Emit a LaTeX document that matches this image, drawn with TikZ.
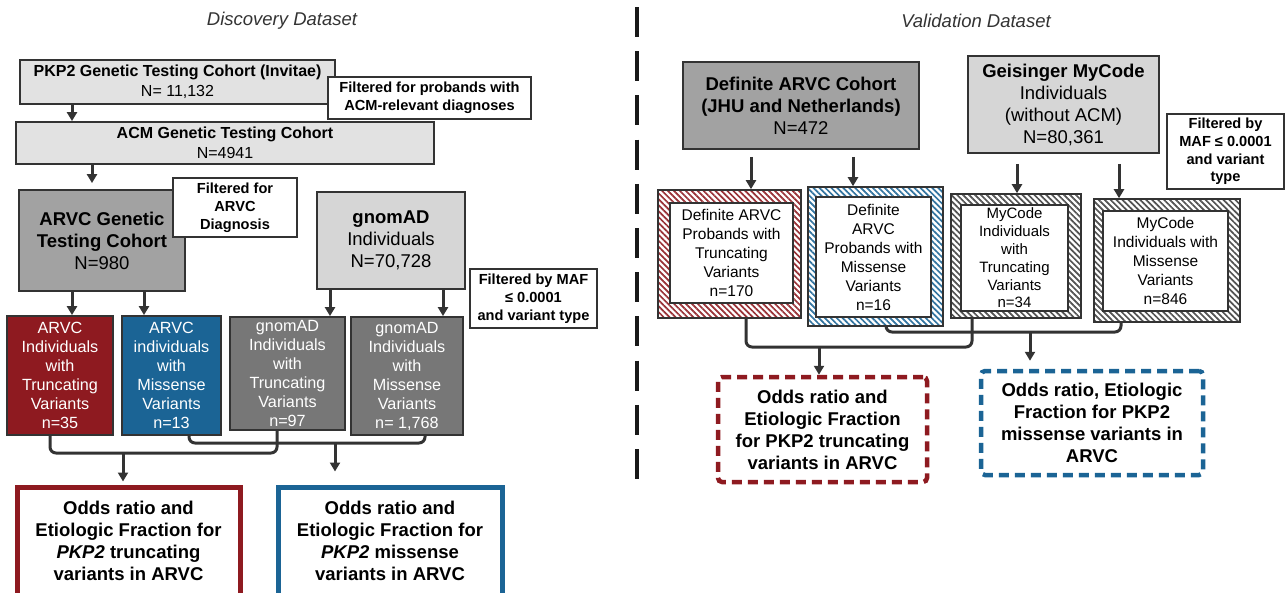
\documentclass[tikz,border=0pt]{standalone}
\usepackage{fontspec}
\setmainfont{Liberation Sans}
\usepackage{xcolor}
\usetikzlibrary{arrows.meta, calc, patterns.meta}

\definecolor{arvcred}{HTML}{8E1A20}
\definecolor{arvcblue}{HTML}{1B6495}
\definecolor{boxline}{HTML}{333333}
\definecolor{lightfill}{HTML}{E2E2E2}
\definecolor{midfill}{HTML}{D6D6D6}
\definecolor{darkfill}{HTML}{A2A2A2}
\definecolor{gnomfill}{HTML}{777777}

\tikzset{
  cell/.style 2 args={minimum width=#1pt, minimum height=#2pt},
  box/.style={draw=boxline, line width=1.8pt, inner sep=0pt, align=center},
  note/.style={box, fill=white, line width=1.6pt, font=\fontsize{14.6}{17.8}\selectfont\bfseries},
  title/.style={font=\fontsize{18.5}{22}\selectfont\itshape, text=boxline},
  cohort/.style={box, font=\fontsize{16}{20}\selectfont},
  bigbox/.style={box, font=\fontsize{18.5}{22}\selectfont},
  subset/.style={box, text=white, font=\fontsize{16.2}{19}\selectfont},
  hatch/.style={draw=boxline, line width=1.6pt, pattern={Lines[angle=-45,distance=4.2pt,line width=1.7pt]}, pattern color=#1},
  innerbox/.style={box, fill=white, line width=1.6pt, font=\fontsize{15.5}{19}\selectfont},
  result/.style={box, line width=5pt, fill=white, font=\fontsize{18.5}{22}\selectfont\bfseries},
  dresult/.style={result, line width=4.5pt, rounded corners=4pt, dash pattern=on 10pt off 6pt},
  arr/.style={draw=boxline, line width=3pt, -{Triangle[length=9pt,width=10pt]}},
  link/.style={draw=boxline, line width=3pt, rounded corners=6pt},
}

\begin{document}
\begin{tikzpicture}[x=1pt, y=-1pt]
\useasboundingbox (0,0) rectangle (1285,592);

% Discovery dataset
\node[title] (disc) at (282,21) {Discovery Dataset};
\node[cohort, cell={315}{44}, fill=lightfill] (pkp2) at (177.5,82) {\textbf{PKP2 Genetic Testing Cohort (Invitae)}\\N= 11,132};
\node[note, cell={203}{42}] (filt1) at (429.5,98) {Filtered for probands with\\ACM-relevant diagnoses};
\node[cohort, cell={418}{42}, fill=lightfill] (acm) at (225,143) {\textbf{ACM Genetic Testing Cohort}\\N=4941};
\node[bigbox, cell={166}{101}, fill=darkfill] (arvc) at (102,240.5) {\textbf{ARVC Genetic}\\\textbf{Testing Cohort}\\N=980};
\node[note, cell={124}{59}] (filt2) at (235,207.5) {Filtered for\\ARVC\\Diagnosis};
\node[bigbox, cell={148}{97}, fill=midfill] (gnom) at (391,240.5) {\textbf{gnomAD}\\Individuals\\N=70,728};
\node[note, cell={127}{59}] (filt3) at (533.5,298.5) {Filtered by MAF\\≤ 0.0001\\and variant type};

\draw[arr] (72,0 |- pkp2.south) -- (72,0 |- acm.north);
\draw[arr, shorten >=6pt] (92,0 |- acm.south) -- (92,0 |- arvc.north);

% variant subsets
\node[subset, cell={106}{119}, fill=arvcred] (arvcT) at (60,375.5) {ARVC\\Individuals\\with\\Truncating\\Variants\\n=35};
\node[subset, cell={99}{119}, fill=arvcblue] (arvcM) at (171.5,375.5) {ARVC\\individuals\\with\\Missense\\Variants\\n=13};
\node[subset, cell={115}{113}, fill=gnomfill] (gnomT) at (287.5,373.5) {gnomAD\\Individuals\\with\\Truncating\\Variants\\n=97};
\node[subset, cell={112}{118}, fill=gnomfill] (gnomM) at (407,376) {gnomAD\\Individuals\\with\\Missense\\Variants\\n= 1,768};

\draw[arr] (72,0 |- arvc.south) -- (72,0 |- arvcT.north);
\draw[arr] (144,0 |- arvc.south) -- (144,0 |- arvcM.north);
\draw[arr] (330,0 |- gnom.south) -- (330,0 |- gnomT.north);
\draw[arr] (443,0 |- gnom.south) -- (443,0 |- gnomM.north);

% odds ratio results
\node[result, draw=arvcred, cell={223}{108}] (oddsT) at (128.5,541) {Odds ratio and\\Etiologic Fraction for\\\textit{PKP2} truncating\\variants in ARVC};
\node[result, draw=arvcblue, cell={224}{108}] (oddsM) at (390,541) {Odds ratio and\\Etiologic Fraction for\\\textit{PKP2} missense\\variants in ARVC};

\coordinate (jt) at (123,453);
\coordinate (jm) at (335,443);
\draw[link] (50,0 |- arvcT.south) |- (jt) -| (277,0 |- gnomT.south);
\draw[link] (189,0 |- arvcM.south) |- (jm) -| (425,0 |- gnomM.south);
\draw[arr, shorten >=3pt] (jt) -- (jt |- oddsT.north);
\draw[arr, shorten >=13pt] (jm) -- (jm |- oddsM.north);

% divider
\draw[black!90, line width=3.5pt, dash pattern=on 30pt off 14.2pt] (637,7) -- (637,480);

% Validation dataset
\node[title] (valid) at (976,21) {Validation Dataset};
\node[bigbox, cell={236}{87}, fill=darkfill] (defc) at (801,105.5) {\textbf{Definite ARVC Cohort}\\\textbf{(JHU and Netherlands)}\\N=472};
\node[bigbox, cell={191}{97}, fill=midfill] (geis) at (1063.5,104.5) {\textbf{Geisinger MyCode}\\Individuals\\(without ACM)\\N=80,361};
\node[note, cell={117}{75}] (filt4) at (1225.5,151.5) {Filtered by\\MAF ≤ 0.0001\\and variant\\type};

% hatched subsets
\node[hatch=arvcred!90, cell={143}{128}] (defT) at (729.5,254) {};
\node[innerbox, cell={123}{100}] (defTin) at (731.5,253) {Definite ARVC\\Probands with\\Truncating\\Variants\\n=170};
\node[hatch=arvcblue!90, cell={135}{139}] (defM) at (875.5,256.5) {};
\node[innerbox, cell={115}{120}] (defMin) at (873.5,257) {Definite\\ARVC\\Probands with\\Missense\\Variants\\n=16};
\node[hatch=boxline!85, cell={130}{124}] (myT) at (1016,256) {};
\node[innerbox, cell={107}{106}, font=\fontsize{15}{17.8}\selectfont] (myTin) at (1014.5,258) {MyCode\\Individuals\\with\\Truncating\\Variants\\n=34};
\node[hatch=boxline!85, cell={146}{123}] (myM) at (1167,260.5) {};
\node[innerbox, cell={125}{100}] (myMin) at (1165.5,261) {MyCode\\Individuals with\\Missense\\Variants\\n=846};

\draw[arr, shorten <=7pt] (751,0 |- defc.south) -- (751,0 |- defT.north);
\draw[arr, shorten <=7pt] (853,0 |- defc.south) -- (853,0 |- defM.north);
\draw[arr, shorten <=10pt] (1017,0 |- geis.south) -- (1017,0 |- myT.north);
\draw[arr, shorten <=10pt] (1119,0 |- geis.south) -- (1119,0 |- myM.north);

% dashed results
\node[dresult, draw=arvcred, cell={209}{105}] (oddsT2) at (822.5,429.5) {Odds ratio and\\Etiologic Fraction\\for PKP2 truncating\\variants in ARVC};
\node[dresult, draw=arvcblue, cell={222}{104}] (oddsM2) at (1092,423) {Odds ratio, Etiologic\\Fraction for PKP2\\missense variants in\\ARVC};

\coordinate (jt2) at (819,347);
\coordinate (jm2) at (1030,332);
\draw[link] (746,0 |- defT.south) |- (jt2) -| (972,0 |- myT.south);
\draw[link] (886,0 |- defM.south) |- (jm2) -| (1121,0 |- myM.south);
\draw[arr] (jt2) -- (jt2 |- oddsT2.north);
\draw[arr, shorten >=8pt] (jm2) -- (jm2 |- oddsM2.north);
\end{tikzpicture}
\end{document}
